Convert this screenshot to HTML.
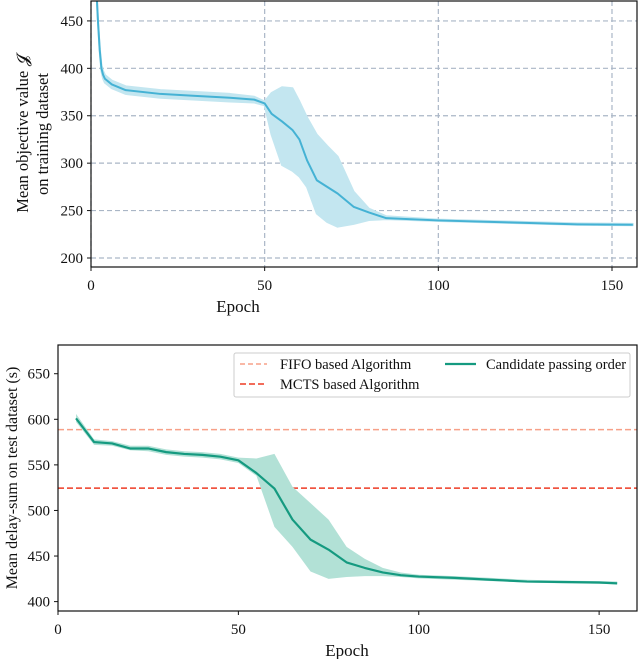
<!DOCTYPE html>
<html><head><meta charset="utf-8"><style>
body{margin:0;background:#fff;}
svg{display:block;font-family:"Liberation Serif",serif;}
</style></head><body>
<svg id="s" width="640" height="659"></svg>
<script>
const NS="http://www.w3.org/2000/svg";
const svg=document.getElementById('s');
// top chart data
const topEpochs=[1.6,2,2.5,3,3.5,4,6,10,20,30,40,47,50,52,55,58,60,62.2,65,68,71,75.6,80,85,100,120,140,156];
const topMean=[480,450,420,400,393,389,383,377,373,371,369,367,363,352,344,335,325,303,282,275,268,254,248,242,239.6,237.5,235.5,235];
const topLo=[480,450,418,397,389,385,379,373,369,367,365,364,361,330,298,292,286,275,247,238,233,236,240,241,239,237,235,234.5];
const topHi=[480,450,422,403,397,393,387,381,377,375,373,370,365,374,380,379,365,348,330,318,307,270,252,244,240.5,238.5,236.5,236];
const topYTicks=[200,250,300,350,400,450];
const topXTicks=[0,50,100,150];
// bottom chart data
const botEpochs=[5,10,15,20,25,30,35,40,45,50,55,60,65,70,75,80,85,90,95,100,110,120,130,140,150,155];
const botMean=[601,575,573.5,568,568,564,562,561,559,555,541,524,490,468,457,443,437,432,429,427.5,426,424,422,421.5,421,420];
const botLo=[597,572,571,566,565,561,559,558,556,552,538,482,460,433,425,427,428,428,427,425.5,424,422.5,421,420,419.5,419];
const botHi=[606,578,576,571,571,567,565,564,562,558,557,562,526,508,490,460,447,437,432,429.5,428,426,424,423,422.5,422];
const fifoValue=588.6;
const mctsValue=524.5;
const botYTicks=[400,450,500,550,600,650];
const botXTicks=[0,50,100,150];

function el(tag,attrs,name,parent){const e=document.createElementNS(NS,tag);for(const k in attrs)e.setAttribute(k,attrs[k]);


(parent||svg).appendChild(e);return e;}
function txt(x,y,s,size,anchor,name,extra){const t=el('text',Object.assign({x:x,y:y,'font-size':size,'text-anchor':anchor||'middle',fill:'#111'},extra||{}),name);t.textContent=s;return t;}

// ---- TOP ----
const T={l:91,r:637,t:1,b:267,x0:0,x1:157.2,y0:190.5,y1:471};
const tx=v=>T.l+(v-T.x0)/(T.x1-T.x0)*(T.r-T.l);
const ty=v=>T.b-(v-T.y0)/(T.y1-T.y0)*(T.b-T.t);
const defs=el('defs',{},'defs');
const cp=el('clipPath',{id:'ct'},'top-clip',defs);
el('rect',{x:T.l,y:T.t,width:T.r-T.l,height:T.b-T.t},'top-clip-rect',cp);
const cp2=el('clipPath',{id:'cb'},'bottom-clip',defs);
topYTicks.forEach(v=>{el('line',{x1:T.l,x2:T.r,y1:ty(v),y2:ty(v),stroke:'#aab6c6','stroke-width':1.2,'stroke-dasharray':'5,3'},'top-y-grid-'+v);
el('line',{x1:T.l-4,x2:T.l,y1:ty(v),y2:ty(v),stroke:'#111'},'top-y-tick-'+v);
txt(T.l-8,ty(v)+5,String(v),15,'end','top-y-tick-label-'+v);});
topXTicks.forEach(v=>{el('line',{x1:tx(v),x2:tx(v),y1:T.t,y2:T.b,stroke:'#aab6c6','stroke-width':1.2,'stroke-dasharray':'5,3'},'top-x-grid-'+v);
el('line',{x1:tx(v),x2:tx(v),y1:T.b,y2:T.b+4,stroke:'#111'},'top-x-tick-'+v);
txt(tx(v),T.b+23,String(v),15,'middle','top-x-tick-label-'+v);});
const g1=el('g',{'clip-path':'url(#ct)'},'top-series');
let band='M'+topEpochs.map((e,i)=>tx(e)+','+ty(topHi[i])).join('L')+'L'+topEpochs.map((e,i)=>tx(e)+','+ty(topLo[i])).reverse().join('L')+'Z';
el('path',{d:band,fill:'#c3e6f0','stroke':'#c3e6f0','stroke-width':2,'stroke-linejoin':'round'},'top-std-band',g1);
el('path',{d:'M'+topEpochs.map((e,i)=>tx(e)+','+ty(topMean[i])).join('L'),fill:'none',stroke:'#45b2d4','stroke-width':2,'stroke-linejoin':'round'},'top-mean-line',g1);
el('rect',{x:T.l,y:T.t,width:T.r-T.l,height:T.b-T.t,fill:'none',stroke:'#111','stroke-width':1.2},'top-plot-frame');
txt(238,312,'Epoch',17,'middle','top-x-axis-title');
txt(0,0,'Mean objective value 𝓙',16.5,'middle','top-y-axis-title-line1',{transform:'translate(28,134) rotate(-90)'});
txt(0,0,'on training dataset',16.5,'middle','top-y-axis-title-line2',{transform:'translate(48,134) rotate(-90)'});

// ---- BOTTOM ----
const B={l:58,r:637,t:345,b:611,x0:0,x1:160.5,y0:389.7,y1:681.5};
const bx=v=>B.l+(v-B.x0)/(B.x1-B.x0)*(B.r-B.l);
const by=v=>B.b-(v-B.y0)/(B.y1-B.y0)*(B.b-B.t);
el('rect',{x:B.l,y:B.t,width:B.r-B.l,height:B.b-B.t},'bottom-clip-rect',cp2);
botYTicks.forEach(v=>{el('line',{x1:B.l-4,x2:B.l,y1:by(v),y2:by(v),stroke:'#111'},'bottom-y-tick-'+v);
txt(B.l-8,by(v)+5,String(v),15,'end','bottom-y-tick-label-'+v);});
botXTicks.forEach(v=>{el('line',{x1:bx(v),x2:bx(v),y1:B.b,y2:B.b+4,stroke:'#111'},'bottom-x-tick-'+v);
txt(bx(v),B.b+23,String(v),15,'middle','bottom-x-tick-label-'+v);});
const g2=el('g',{'clip-path':'url(#cb)'},'bottom-series');
el('line',{x1:B.l,x2:B.r,y1:by(fifoValue),y2:by(fifoValue),stroke:'#f7a088','stroke-width':1.5,'stroke-dasharray':'6,3'},'fifo-baseline',g2);
el('line',{x1:B.l,x2:B.r,y1:by(mctsValue),y2:by(mctsValue),stroke:'#ee3b24','stroke-width':1.6,'stroke-dasharray':'6,3'},'mcts-baseline',g2);
band='M'+botEpochs.map((e,i)=>bx(e)+','+by(botHi[i])).join('L')+'L'+botEpochs.map((e,i)=>bx(e)+','+by(botLo[i])).reverse().join('L')+'Z';
el('path',{d:band,fill:'#b2e1d6'},'bottom-std-band',g2);
el('path',{d:'M'+botEpochs.map((e,i)=>bx(e)+','+by(botMean[i])).join('L'),fill:'none',stroke:'#159a80','stroke-width':2.2,'stroke-linejoin':'round'},'candidate-mean-line',g2);
el('rect',{x:B.l,y:B.t,width:B.r-B.l,height:B.b-B.t,fill:'none',stroke:'#111','stroke-width':1.2},'bottom-plot-frame');
txt(347,656,'Epoch',17,'middle','bottom-x-axis-title');
txt(0,0,'Mean delay-sum on test dataset (s)',16,'middle','bottom-y-axis-title',{transform:'translate(17,478) rotate(-90)'});
// legend
const lg=el('g',{},'legend');
el('rect',{x:234,y:353,width:396,height:44,fill:'#fff',stroke:'#ccc','stroke-width':1,rx:2},'legend-box',lg);
el('line',{x1:240,x2:267,y1:364,y2:364,stroke:'#f7a088','stroke-width':1.5,'stroke-dasharray':'5,3'},'legend-fifo-swatch',lg);
txt(280,369,'FIFO based Algorithm',14.5,'start','legend-fifo-label');
el('line',{x1:240,x2:267,y1:384,y2:384,stroke:'#ee3b24','stroke-width':1.6,'stroke-dasharray':'6,3'},'legend-mcts-swatch',lg);
txt(280,389,'MCTS based Algorithm',14.5,'start','legend-mcts-label');
el('line',{x1:445,x2:476,y1:364,y2:364,stroke:'#159a80','stroke-width':2.2},'legend-candidate-swatch',lg);
txt(486,369,'Candidate passing order',14.5,'start','legend-candidate-label');
</script>
</body></html>
